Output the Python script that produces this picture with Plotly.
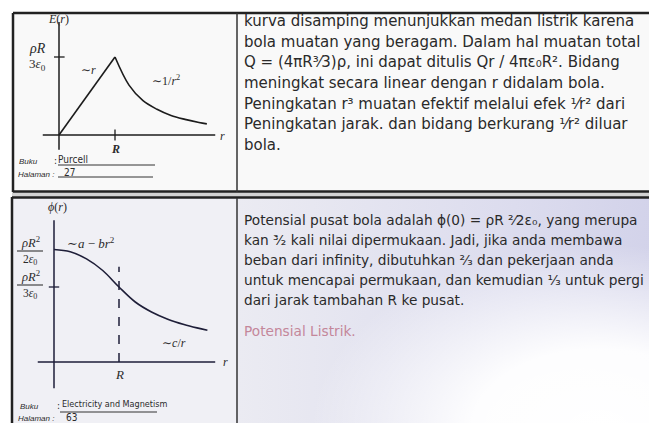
import plotly.graph_objects as go

W, H = 657, 423
OFF = 8  # the page body margin shifts the figure by 8 px, so layout is drawn in reference pixels minus 8

# --- data (E in units of rho R / 3 eps0, phi in rho R^2 / 3 eps0, r in R)
e_r_in = [0.0, 1.0]
e_in = [0.0, 1.0]
e_r_out = [1.0, 1.25, 1.5, 1.75, 2.0, 2.25, 2.5, 2.64]
e_out = [1.0, 0.64, 0.44, 0.33, 0.25, 0.20, 0.16, 0.143]

phi_r = [0.0, 0.25, 0.5, 0.75, 1.0, 1.25, 1.5, 1.75, 2.0, 2.2, 2.36]
phi_v = [1.5, 1.47, 1.375, 1.22, 1.0, 0.80, 0.667, 0.571, 0.50, 0.455, 0.424]

top_lines = [
    "kurva disamping menunjukkan medan listrik karena",
    "bola muatan yang beragam. Dalam hal muatan total",
    "Q = (4πR³⁄3)ρ, ini dapat ditulis Qr / 4πε₀R². Bidang",
    "meningkat secara linear dengan r didalam bola.",
    "Peningkatan r³ muatan efektif melalui efek ¹⁄r² dari",
    "Peningkatan jarak. dan bidang berkurang ¹⁄r² diluar",
    "bola.",
]
bottom_lines = [
    "Potensial pusat bola adalah ϕ(0) = ρR ²⁄2ε₀, yang merupa",
    "kan ³⁄₂ kali nilai dipermukaan. Jadi, jika anda membawa",
    "beban dari infinity, dibutuhkan ²⁄₃ dan pekerjaan anda",
    "untuk mencapai permukaan, dan kemudian ¹⁄₃ untuk pergi",
    "dari jarak tambahan R ke pusat.",
]
note_line = "Potensial Listrik."

HAND = "DejaVu Sans"
NARROW = "Liberation Sans Narrow, DejaVu Sans Condensed, Liberation Sans"
SERIF = "Liberation Serif, DejaVu Serif"
INK = "#2b2b2b"


def dom_x(a, b):
    return [(a - OFF) / W, (b - OFF) / W]


def dom_y(top, bottom):
    return [1 - (bottom - OFF) / H, 1 - (top - OFF) / H]


def chart_axes(x0, x1, y0, y1, ox, oy, ux, uy):
    xa = dict(domain=dom_x(x0, x1), range=[(x0 - ox) / ux, (x1 - ox) / ux])
    ya = dict(domain=dom_y(y0, y1), range=[(oy - y1) / uy, (oy - y0) / uy])
    return xa, ya


fig = go.Figure()

# lower note area: lavender tint, brighter glare towards the bottom right
fig.add_trace(go.Scatter(
    x=[238, 700, 700, 238, 238], y=[198, 198, 470, 470, 198],
    xaxis="x", yaxis="y", mode="none", fill="toself",
    fillgradient=dict(type="horizontal",
                      colorscale=[[0, "#ebebf2"], [0.6, "#dcdcee"], [1, "#cfcfe8"]]),
    hoverinfo="skip", showlegend=False,
))
fig.add_trace(go.Scatter(
    x=[238, 962, 962, 238, 238], y=[198, 198, 662, 662, 198],
    xaxis="x", yaxis="y", mode="none", fill="toself",
    fillgradient=dict(type="radial",
                      colorscale=[[0, "rgba(255,255,255,1)"], [0.35, "rgba(255,255,255,0.95)"],
                                  [0.8, "rgba(255,255,255,0)"], [1, "rgba(255,255,255,0)"]]),
    hoverinfo="skip", showlegend=False,
))

# chart 1: E(r)
fig.add_trace(go.Scatter(x=e_r_in, y=e_in, xaxis="x2", yaxis="y2", mode="lines",
                         line=dict(color="#1c1c1c", width=1.6), showlegend=False))
fig.add_trace(go.Scatter(x=e_r_out, y=e_out, xaxis="x2", yaxis="y2", mode="lines",
                         line=dict(color="#1c1c1c", width=1.6, shape="spline"),
                         showlegend=False))

# chart 2: phi(r)
fig.add_trace(go.Scatter(x=phi_r, y=phi_v, xaxis="x3", yaxis="y3", mode="lines",
                         line=dict(color="#1e1e38", width=1.6, shape="spline"),
                         showlegend=False))

shapes = []


def seg(x0, y0, x1, y1, ref="", width=1.5, color=INK, dash="solid"):
    shapes.append(dict(type="line", xref="x" + ref, yref="y" + ref,
                       x0=x0, y0=y0, x1=x1, y1=y1, layer="above",
                       line=dict(color=color, width=width, dash=dash)))


def box(x0, y0, x1, y1, fill):
    shapes.append(dict(type="rect", xref="x", yref="y", x0=x0, y0=y0, x1=x1, y1=y1,
                       layer="below", line=dict(width=0), fillcolor=fill))


# panel backgrounds
box(13, 13, 653, 192, "#f9f9f9")
box(12, 192, 665, 198, "#d2d2d2")
box(12, 198, 238, 431, "#f0f0f5")

# panel frames
seg(13, 13, 653, 13, width=2.5, color="#222")
seg(13, 13, 13, 192, width=2.5, color="#222")
seg(653, 13, 653, 192, width=2.5, color="#222")
seg(13, 191.5, 653, 191.5, width=2.5, color="#222")
seg(237, 13, 237, 192, width=1.5, color="#333")
seg(12, 197.5, 665, 197.5, width=2.5, color="#222")
seg(12, 197, 12, 431, width=2.5, color="#222")
seg(237, 198, 237, 431, width=1.5, color="#333")

# chart 1 axes
seg(-0.29, 0, 2.79, 0, ref="2", width=1.5, color="#1c1c1c")
seg(0, -0.19, 0, 1.45, ref="2", width=1.5, color="#1c1c1c")
seg(-0.09, 1, 0.1, 1, ref="2", width=1.3, color="#1c1c1c")
seg(1, -0.07, 1, 0.07, ref="2", width=1.3, color="#1c1c1c")

# chart 2 axes
seg(-0.25, 0, 2.48, 0, ref="3", width=1.5, color="#1e1e38")
seg(0, -0.35, 0, 1.89, ref="3", width=1.5, color="#1e1e38")
seg(-0.08, 1, 0.08, 1, ref="3", width=1.3, color="#1e1e38")
seg(1, 0, 1, 1.27, ref="3", width=1.5, color="#1e1e38", dash="dash")

# fraction bars and underlines
seg(17, 251, 43, 251, width=1, color="#222")
seg(17, 285, 43, 285, width=1, color="#222")
seg(58, 165, 155, 165, width=1, color="#333")
seg(58, 177, 153, 177, width=1, color="#333")
seg(60, 412, 157, 412, width=1, color="#333")

anns = []


def txt(x, y, s, size=12, family=SERIF, color=INK, anchor="center"):
    anns.append(dict(x=x, y=y, xref="x", yref="y", text=s, showarrow=False,
                     xanchor=anchor, yanchor="middle",
                     font=dict(size=size, family=family, color=color)))


# chart 1 labels
txt(58, 19, "<i>E</i>(<i>r</i>)", 12)
txt(37, 48, "<i>ρR</i>", 14)
txt(37, 64, "3<i>ε</i><sub>0</sub>", 13)
txt(88, 70, "∼<i>r</i>", 12)
txt(166, 80, "∼1/<i>r</i><sup>2</sup>", 12)
txt(222, 136, "<i>r</i>", 12)
txt(115, 149, "<b><i>R</i></b>", 12)
txt(17, 161, "<i>Buku</i>", 8, "Liberation Sans", anchor="left")
txt(52, 160, ":", 10, NARROW, anchor="left")
txt(56, 159, "Purcell", 10, NARROW, anchor="left")
txt(16, 174, "<i>Halaman :</i>", 8, "Liberation Sans", anchor="left")
txt(62, 172, "27", 10, NARROW, anchor="left")

# chart 2 labels
txt(57, 207, "<i>ϕ</i>(<i>r</i>)", 12)
txt(30, 242, "<i>ρR</i><sup>2</sup>", 12.5)
txt(30, 260, "2<i>ε</i><sub>0</sub>", 11.5)
txt(30, 276, "<i>ρR</i><sup>2</sup>", 12.5)
txt(30, 294, "3<i>ε</i><sub>0</sub>", 11.5)
txt(91, 243, "∼<i>a</i> − <i>br</i><sup>2</sup>", 13)
txt(174, 343, "∼<i>c</i>/<i>r</i>", 12)
txt(225, 362, "<i>r</i>", 12)
txt(119, 374, "<i>R</i>", 13)
txt(18, 406, "<i>Buku</i>", 8, "Liberation Sans", anchor="left")
txt(55, 405, ":", 10, NARROW, anchor="left")
txt(60, 404, "Electricity and Magnetism", 9, NARROW, anchor="left")
txt(16, 418, "<i>Halaman :</i>", 8, "Liberation Sans", anchor="left")
txt(64, 417, "63", 10, NARROW, anchor="left")

# handwritten notes
top_y = [21, 42, 62, 83, 104, 124, 145]
for yy, line in zip(top_y, top_lines):
    txt(242, yy, line, 15, HAND, "#2a2a2a", "left")
bot_y = [220, 240, 260, 280, 300]
for yy, line in zip(bot_y, bottom_lines):
    txt(242, yy, line, 13.7, HAND, "#2a2a2a", "left")
txt(242, 331, note_line, 13.7, HAND, "#c4879a", "left")

x2, y2 = chart_axes(15, 236, 14, 191, 59, 135, 56, 78)
x3, y3 = chart_axes(13, 236, 199, 423, 54, 362, 65, 75)
hidden = dict(visible=False, fixedrange=True)

fig.update_layout(
    width=W, height=H,
    margin=dict(l=0, r=0, t=0, b=0),
    paper_bgcolor="white", plot_bgcolor="rgba(0,0,0,0)",
    showlegend=False,
    xaxis=dict(domain=[0, 1], range=[OFF, W + OFF], **hidden),
    yaxis=dict(domain=[0, 1], range=[H + OFF, OFF], **hidden),
    xaxis2=dict(anchor="y2", **x2, **hidden),
    yaxis2=dict(anchor="x2", **y2, **hidden),
    xaxis3=dict(anchor="y3", **x3, **hidden),
    yaxis3=dict(anchor="x3", **y3, **hidden),
    shapes=shapes,
    annotations=anns,
)

fig.write_html("out.html")
